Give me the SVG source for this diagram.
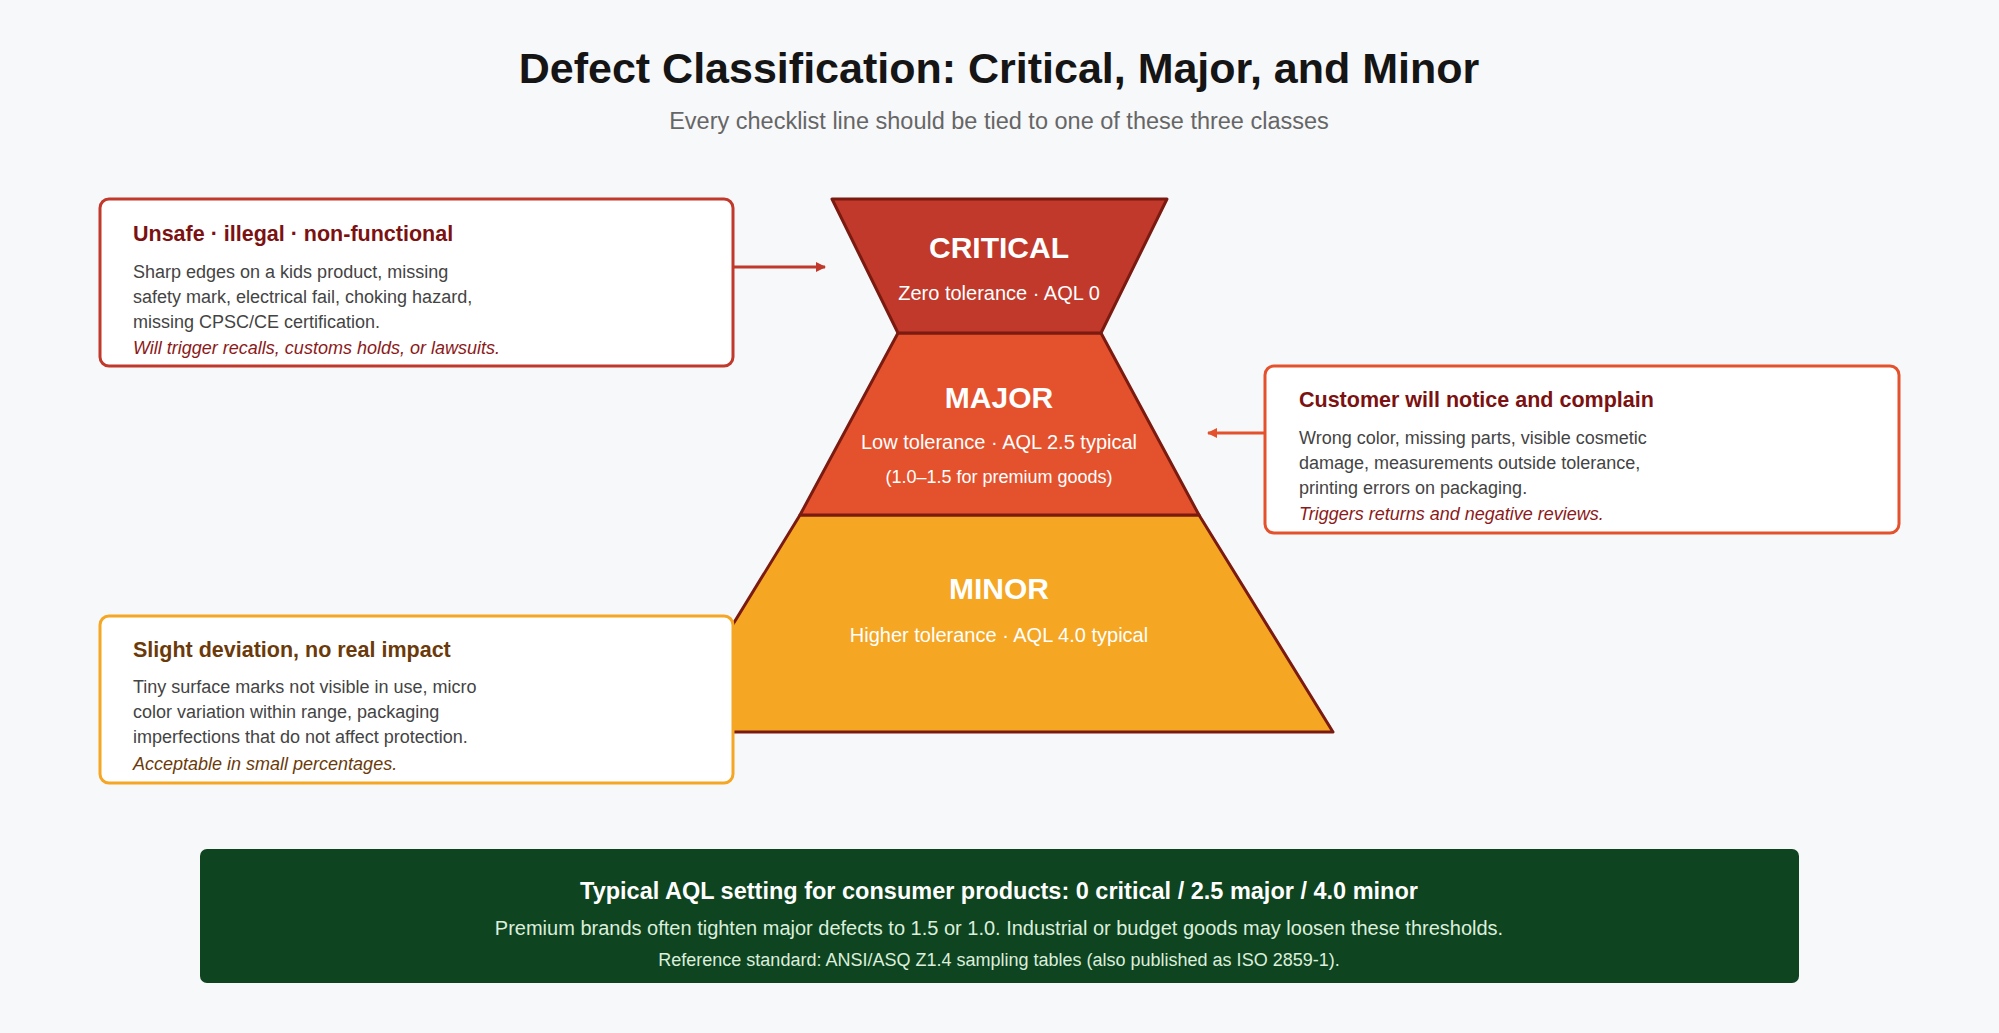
<svg xmlns="http://www.w3.org/2000/svg" width="1999" height="1033" viewBox="0 0 1999 1033">
<defs>
<style>
text{font-family:"Liberation Sans",Arial,sans-serif}
.t{font-size:43px;font-weight:bold;fill:#151515}
.st{font-size:23.5px;fill:#666}
.lvl{font-size:30px;font-weight:bold;fill:#fff}
.lsub{font-size:20px;fill:#fff}
.lsm{font-size:18px;fill:#fff}
.box{fill:#fff;stroke-width:3}
.bt{font-size:21.5px;font-weight:bold}
.bd{font-size:18px;fill:#444}
.bi{font-size:18px;font-style:italic}
.tier{stroke:#7a1a10;stroke-width:3;stroke-linejoin:round}
</style>
<marker id="ar1" markerWidth="10" markerHeight="10" refX="9" refY="5" orient="auto" markerUnits="userSpaceOnUse"><path d="M0,0 L10,5 L0,10 Z" fill="#c0392b"/></marker>
<marker id="ar2" markerWidth="10" markerHeight="10" refX="9" refY="5" orient="auto" markerUnits="userSpaceOnUse"><path d="M0,0 L10,5 L0,10 Z" fill="#e4522d"/></marker>
</defs>
<rect width="1999" height="1033" fill="#f7f8fa"/>
<text class="t" x="999" y="83" text-anchor="middle">Defect Classification: Critical, Major, and Minor</text>
<text class="st" x="999" y="129" text-anchor="middle">Every checklist line should be tied to one of these three classes</text>

<g id="tier-minor">
<polygon class="tier" points="800,515 1199,515 1333,732 667,732" fill="#f5a623"/>
<text class="lvl" x="999" y="599" text-anchor="middle">MINOR</text>
<text class="lsub" x="999" y="642" text-anchor="middle">Higher tolerance · AQL 4.0 typical</text>
</g>
<g id="tier-major">
<polygon class="tier" points="898,333 1101,333 1199,515 800,515" fill="#e4522d"/>
<text class="lvl" x="999" y="408" text-anchor="middle">MAJOR</text>
<text class="lsub" x="999" y="449" text-anchor="middle">Low tolerance · AQL 2.5 typical</text>
<text class="lsm" x="999" y="483" text-anchor="middle">(1.0–1.5 for premium goods)</text>
</g>
<g id="tier-critical">
<polygon class="tier" points="832,199 1167,199 1101,333 898,333" fill="#c0392b"/>
<text class="lvl" x="999" y="258" text-anchor="middle">CRITICAL</text>
<text class="lsub" x="999" y="300" text-anchor="middle">Zero tolerance · AQL 0</text>
</g>

<g id="connectors">
<line x1="733" y1="267" x2="825" y2="267" stroke="#c0392b" stroke-width="3" marker-end="url(#ar1)"/>
<line x1="1265" y1="433" x2="1208" y2="433" stroke="#e4522d" stroke-width="3" marker-end="url(#ar2)"/>
</g>

<g id="box-critical">
<rect class="box" x="100" y="199" width="633" height="167" rx="9" stroke="#c0392b"/>
<text class="bt" x="133" y="241" fill="#7b1111">Unsafe · illegal · non-functional</text>
<text class="bd" x="133" y="278">Sharp edges on a kids product, missing</text>
<text class="bd" x="133" y="303">safety mark, electrical fail, choking hazard,</text>
<text class="bd" x="133" y="328">missing CPSC/CE certification.</text>
<text class="bi" x="133" y="354" fill="#8b1a1a">Will trigger recalls, customs holds, or lawsuits.</text>
</g>

<g id="box-major">
<rect class="box" x="1265" y="366" width="634" height="167" rx="9" stroke="#e4522d"/>
<text class="bt" x="1299" y="407" fill="#7b1111">Customer will notice and complain</text>
<text class="bd" x="1299" y="444">Wrong color, missing parts, visible cosmetic</text>
<text class="bd" x="1299" y="469">damage, measurements outside tolerance,</text>
<text class="bd" x="1299" y="494">printing errors on packaging.</text>
<text class="bi" x="1299" y="520" fill="#8b1a1a">Triggers returns and negative reviews.</text>
</g>

<g id="box-minor">
<rect class="box" x="100" y="616" width="633" height="167" rx="9" stroke="#f5a623"/>
<text class="bt" x="133" y="657" fill="#6b3a0a">Slight deviation, no real impact</text>
<text class="bd" x="133" y="693">Tiny surface marks not visible in use, micro</text>
<text class="bd" x="133" y="718">color variation within range, packaging</text>
<text class="bd" x="133" y="743">imperfections that do not affect protection.</text>
<text class="bi" x="133" y="770" fill="#6b3a0a">Acceptable in small percentages.</text>
</g>

<g id="banner">
<rect x="200" y="849" width="1599" height="134" rx="7" fill="#0e4420"/>
<text x="999" y="899" text-anchor="middle" font-size="23.5" font-weight="bold" fill="#fff">Typical AQL setting for consumer products: 0 critical / 2.5 major / 4.0 minor</text>
<text x="999" y="935" text-anchor="middle" font-size="20" fill="#dcefdc">Premium brands often tighten major defects to 1.5 or 1.0. Industrial or budget goods may loosen these thresholds.</text>
<text x="999" y="966" text-anchor="middle" font-size="18" fill="#dcefdc">Reference standard: ANSI/ASQ Z1.4 sampling tables (also published as ISO 2859-1).</text>
</g>
</svg>
